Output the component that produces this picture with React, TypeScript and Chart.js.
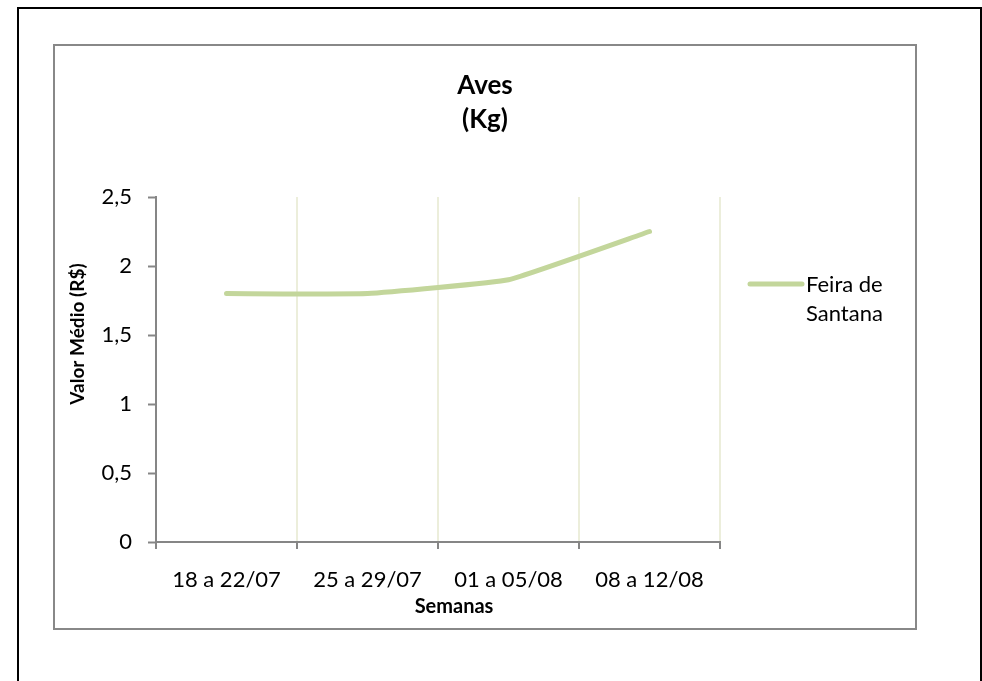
import React, { useEffect, useRef } from "react";
import { Chart, registerables } from "chart.js";

Chart.register(...registerables);

const categories = ["18 a 22/07", "25 a 29/07", "01 a 05/08", "08 a 12/08"];
const feiraDeSantana = [1.8, 1.8, 1.9, 2.25];
const seriesName = "Feira de Santana";
const legendLines = ["Feira de", "Santana"];
const titleLines = ["Aves", "(Kg)"];
const yAxisTitle = "Valor Médio (R$)";
const xAxisTitle = "Semanas";
const yMin = 0;
const yMax = 2.5;
const yStep = 0.5;

const FONT = "Lato, 'Noto Sans', sans-serif";
const LINE_COLOR = "#C3D69B";
const AXIS_COLOR = "#868686";
const GRID_COLOR = "#ECEEDB";

const decorPlugin = {
  id: "decor",
  afterDraw(chart: any) {
    const ctx = chart.ctx as CanvasRenderingContext2D;
    ctx.save();
    // outer black frame (no bottom edge visible)
    ctx.strokeStyle = "#000";
    ctx.lineWidth = 2;
    ctx.beginPath();
    ctx.moveTo(18, 681);
    ctx.lineTo(18, 8);
    ctx.lineTo(981, 8);
    ctx.lineTo(981, 681);
    ctx.stroke();
    // inner gray frame
    ctx.strokeStyle = "#888888";
    ctx.lineWidth = 2;
    ctx.strokeRect(54, 45, 862, 584);

    ctx.fillStyle = "#000";
    // title
    ctx.font = `bold 26px ${FONT}`;
    ctx.textAlign = "center";
    ctx.textBaseline = "alphabetic";
    ctx.fillText(titleLines[0], 485, 94);
    ctx.fillText(titleLines[1], 485, 128);

    // x axis title
    ctx.font = `bold 20px ${FONT}`;
    ctx.fillText(xAxisTitle, 454, 613);

    // y axis title
    ctx.save();
    ctx.translate(84, 334);
    ctx.rotate(-Math.PI / 2);
    ctx.font = `bold 19px ${FONT}`;
    ctx.textAlign = "center";
    ctx.fillText(yAxisTitle, 0, 0);
    ctx.restore();

    // legend
    ctx.strokeStyle = LINE_COLOR;
    ctx.lineWidth = 5;
    ctx.lineCap = "round";
    ctx.beginPath();
    ctx.moveTo(750, 284);
    ctx.lineTo(802, 284);
    ctx.stroke();
    ctx.font = `22px ${FONT}`;
    ctx.textAlign = "left";
    ctx.fillText(legendLines[0], 806, 292);
    ctx.fillText(legendLines[1], 806, 321);
    ctx.restore();
  },
};

export default function App() {
  const ref = useRef<HTMLCanvasElement | null>(null);

  useEffect(() => {
    document.body.style.margin = "0";
    const canvas = ref.current!;
    const chart = new Chart(canvas, {
      type: "line",
      data: {
        labels: categories,
        datasets: [
          {
            label: seriesName,
            data: feiraDeSantana,
            borderColor: LINE_COLOR,
            backgroundColor: LINE_COLOR,
            borderWidth: 5,
            borderCapStyle: "round",
            borderJoinStyle: "round",
            pointRadius: 0,
            tension: 0.1,
            fill: false,
          },
        ],
      },
      options: {
        animation: false,
        responsive: false,
        devicePixelRatio: 1,
        layout: { padding: { left: 0, right: 262, top: 197, bottom: 0 } },
        plugins: {
          legend: { display: false },
          title: { display: false },
          tooltip: { enabled: false },
        },
        scales: {
          x: {
            type: "category",
            offset: true,
            grid: {
              offset: true,
              display: true,
              drawOnChartArea: true,
              color: GRID_COLOR,
              lineWidth: 2,
              tickColor: AXIS_COLOR,
              tickLength: 7,
              tickWidth: 2,
            },
            border: { display: true, color: AXIS_COLOR, width: 2 },
            ticks: {
              color: "#000",
              font: { family: FONT, size: 22 },
              padding: 18,
              maxRotation: 0,
              autoSkip: false,
            },
            afterFit(scale: any) {
              scale.height = 139;
            },
          },
          y: {
            min: yMin,
            max: yMax,
            grid: {
              drawOnChartArea: false,
              drawTicks: true,
              color: AXIS_COLOR,
              tickColor: AXIS_COLOR,
              tickLength: 8,
              tickWidth: 2,
            },
            border: { display: true, color: AXIS_COLOR, width: 2 },
            ticks: {
              stepSize: yStep,
              color: "#000",
              font: { family: FONT, size: 22 },
              padding: 16,
              callback: (v: any) => String(v).replace(".", ","),
            },
            afterFit(scale: any) {
              scale.width = 156;
            },
          },
        },
      },
      plugins: [decorPlugin],
    });
    return () => chart.destroy();
  }, []);

  return (
    <div style={{ position: "fixed", left: 0, top: 0, width: 982, height: 681, background: "#fff" }}>
      <canvas ref={ref} width={982} height={681} style={{ width: 982, height: 681, display: "block" }} />
    </div>
  );
}
